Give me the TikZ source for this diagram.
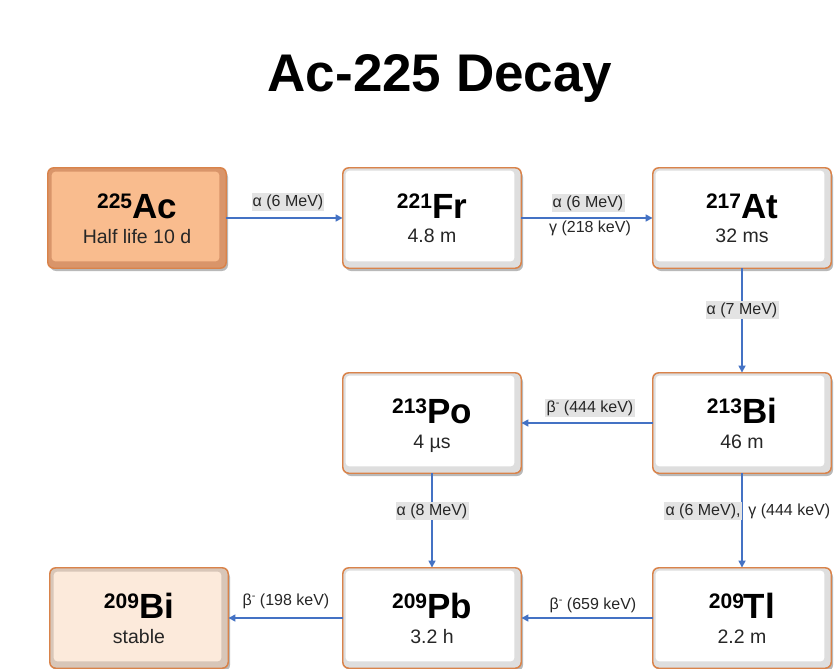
\documentclass[tikz,border=0pt]{standalone}
\usepackage{fontspec}
\setmainfont{Liberation Sans}
\usetikzlibrary{arrows.meta,shadows,calc}
\definecolor{boxborder}{HTML}{D9834A}
\definecolor{arrowblue}{HTML}{4472C4}
\definecolor{acfill}{HTML}{F9BC8E}
\definecolor{acedge}{HTML}{D9956A}
\definecolor{bifill}{HTML}{FCEADB}
\definecolor{biedge}{HTML}{D8C6B8}
\definecolor{labelbg}{HTML}{E3E3E3}
\tikzset{
  nucbox/.style={draw=boxborder, line width=0.9pt, rounded corners=6pt,
    minimum width=178pt, minimum height=100pt, inner sep=0pt,
    drop shadow={shadow xshift=2pt, shadow yshift=-3pt, fill=black!50, opacity=0.55}},
  decay/.style={draw=arrowblue, line width=1.6pt, -{Triangle[length=7pt,width=7pt]}},
  lbl/.style={font=\fontsize{16}{16}\selectfont, inner sep=1.2pt, text=black!85},
  lblbg/.style={lbl, fill=labelbg},
  sym/.style={anchor=base},
  sub/.style={anchor=base, font=\fontsize{19.5}{20}\selectfont, text=black!85},
}
\newcommand{\nucl}[2]{\raisebox{10pt}{\fontsize{21}{21}\selectfont\bfseries #1}{\fontsize{35}{35}\selectfont\bfseries #2}}
\newcommand{\bminus}{β\raisebox{5.5pt}{\fontsize{11}{11}\selectfont -}}
\begin{document}
\begin{tikzpicture}[x=1pt,y=-1pt]
\useasboundingbox (0,0) rectangle (836,669);
\node[anchor=base, font=\fontsize{53}{53}\selectfont\bfseries] (title) at (440,92) {Ac-225 Decay};

% boxes
\node[nucbox, fill=acedge] (ac) at (137,218) {};
\node[nucbox, fill=black!13] (fr) at (432,218) {};
\node[nucbox, fill=black!13] (at) at (742,218) {};
\node[nucbox, fill=black!13] (po) at (432,423) {};
\node[nucbox, fill=black!13] (bi) at (742,423) {};
\node[nucbox, fill=biedge] (bis) at (139,618) {};
\node[nucbox, fill=black!13] (pb) at (432,618) {};
\node[nucbox, fill=black!13] (tl) at (742,618) {};

% bevel faces
\fill[acfill, rounded corners=4pt] ([shift={(4pt,-4pt)}]ac.north west) rectangle ([shift={(-7pt,7pt)}]ac.south east);
\fill[bifill, rounded corners=4pt] ([shift={(4pt,-4pt)}]bis.north west) rectangle ([shift={(-7pt,7pt)}]bis.south east);
\foreach \b in {fr,at,po,bi,pb,tl}{
  \fill[white, rounded corners=4pt] ([shift={(3pt,-3pt)}]\b.north west) rectangle ([shift={(-7pt,7pt)}]\b.south east);
}
\foreach \b in {ac,fr,at,po,bi,bis,pb,tl}{
  \draw[boxborder, line width=0.9pt, rounded corners=6pt] (\b.north west) rectangle (\b.south east);
}

% texts
\node[sym] (acT) at (ac.center) {\nucl{225}{Ac}};
\node[sub] (acS) at ([yshift=-25pt]ac.center) {Half life 10 d};
\node[sym] (frT) at (fr.center) {\nucl{221}{Fr}};
\node[sub] (frS) at ([yshift=-24pt]fr.center) {4.8 m};
\node[sym] (atT) at (at.center) {\nucl{217}{At}};
\node[sub] (atS) at ([yshift=-24pt]at.center) {32 ms};
\node[sym] (poT) at (po.center) {\nucl{213}{Po}};
\node[sub] (poS) at ([yshift=-25pt]po.center) {4 µs};
\node[sym] (biT) at (bi.center) {\nucl{213}{Bi}};
\node[sub] (biS) at ([yshift=-25pt]bi.center) {46 m};
\node[sym] (bisT) at (bis.center) {\nucl{209}{Bi}};
\node[sub] (bisS) at ([yshift=-25pt]bis.center) {stable};
\node[sym] (pbT) at (pb.center) {\nucl{209}{Pb}};
\node[sub] (pbS) at ([yshift=-25pt]pb.center) {3.2 h};
\node[sym] (tlT) at (tl.center) {\nucl{209}{Tl}};
\node[sub] (tlS) at ([yshift=-25pt]tl.center) {2.2 m};

% connectors
\draw[decay] (ac.east) -- (fr.west);
\draw[decay] (fr.east) -- (at.west);
\draw[decay] (at.south) -- (bi.north);
\draw[decay] (bi.west) -- (po.east);
\draw[decay] (po.south) -- (pb.north);
\draw[decay] (bi.south) -- (tl.north);
\draw[decay] (tl.west) -- (pb.east);
\draw[decay] (pb.west) -- (bis.east);

% labels
\node[lblbg] (l1) at (288,202) {α (6 MeV)};
\node[lblbg] (l2a) at (588,203) {α (6 MeV)};
\node[lbl] (l2b) at (590,228) {γ (218 keV)};
\node[lblbg] (l3) at (742,310) {α (7 MeV)};
\node[lblbg] (l4) at (590,408) {\bminus{} (444 keV)};
\node[lblbg] (l5) at (432,511) {α (8 MeV)};
\node[lblbg, anchor=east] (l6a) at (742,511) {α (6 MeV),};
\node[lbl, anchor=west] (l6b) at (747,511) {γ (444 keV)};
\node[lbl] (l7) at (593,605) {\bminus{} (659 keV)};
\node[lbl] (l8) at (286,601) {\bminus{} (198 keV)};
\end{tikzpicture}
\end{document}
